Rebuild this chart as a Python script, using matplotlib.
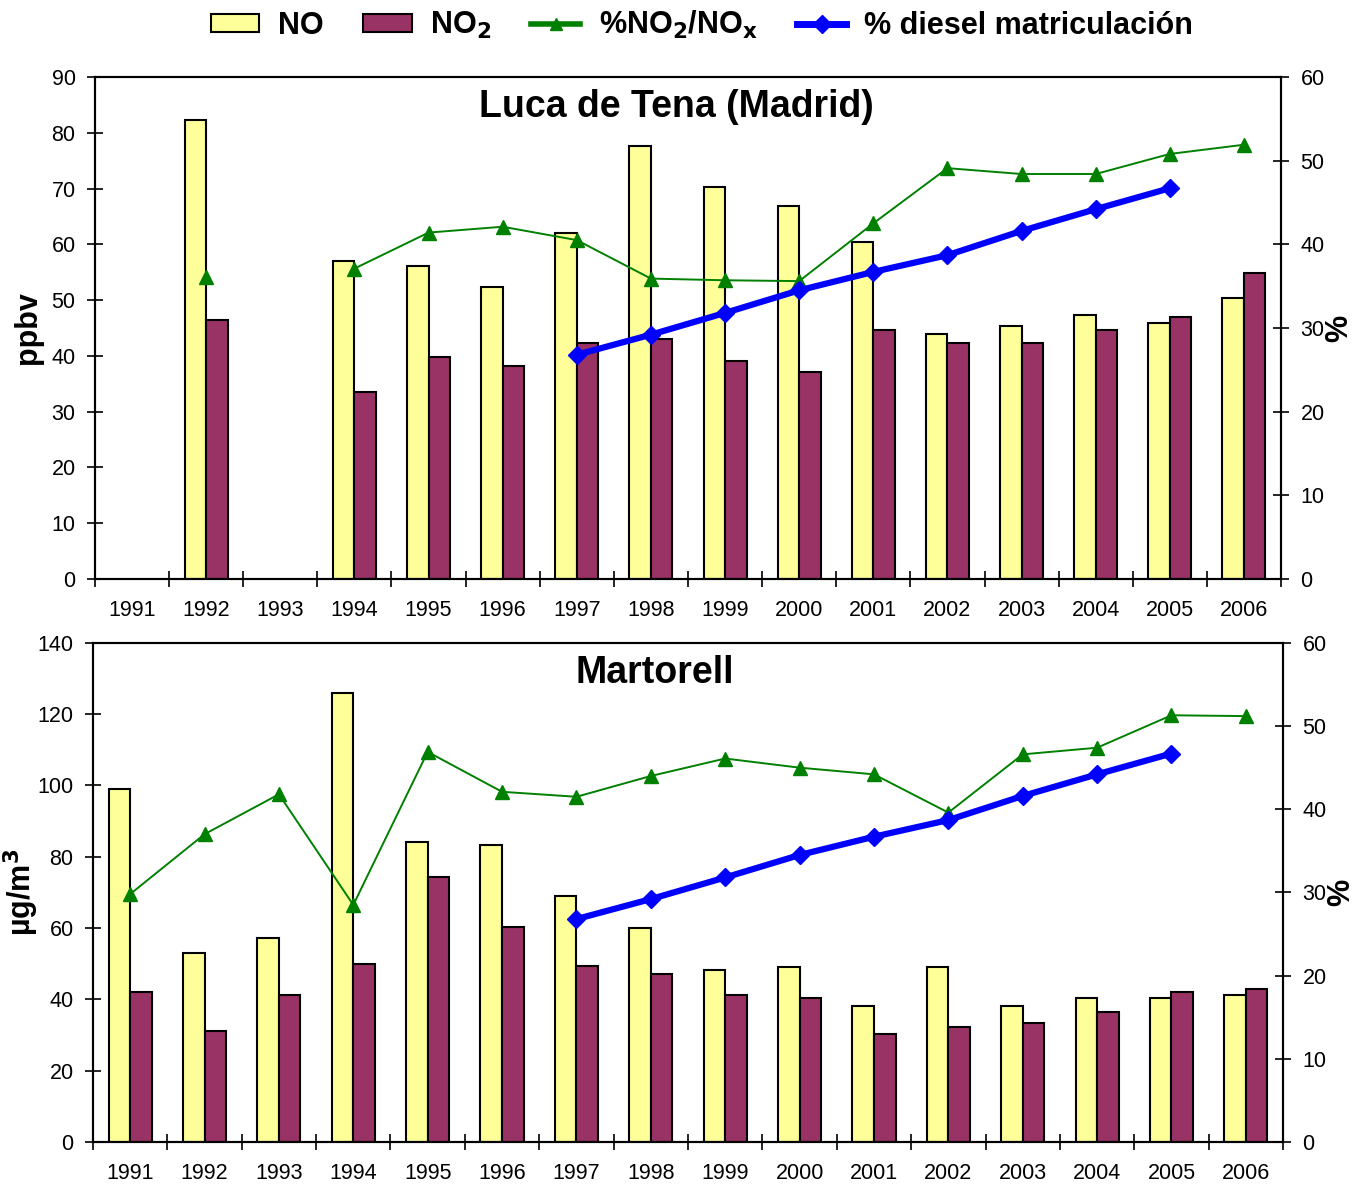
import numpy as np
import matplotlib.pyplot as plt
from matplotlib.lines import Line2D
from matplotlib.patches import Patch

plt.rcParams['font.family'] = ['Liberation Sans', 'DejaVu Sans']
plt.rcParams['mathtext.default'] = 'bf'

anios = ['1991', '1992', '1993', '1994', '1995', '1996', '1997', '1998',
         '1999', '2000', '2001', '2002', '2003', '2004', '2005', '2006']

# Luca de Tena (Madrid), ppbv
mad_no = [np.nan, 82.2, np.nan, 57.0, 56.1, 52.3, 62.0, 77.6,
          70.3, 66.9, 60.4, 43.9, 45.4, 47.3, 45.9, 50.4]
mad_no2 = [np.nan, 46.4, np.nan, 33.5, 39.8, 38.2, 42.3, 43.0,
           39.1, 37.1, 44.6, 42.3, 42.3, 44.6, 47.0, 54.9]
mad_ratio = [np.nan, 36.1, np.nan, 37.1, 41.4, 42.1, 40.5, 35.9,
             35.7, 35.6, 42.5, 49.1, 48.4, 48.4, 50.8, 51.9]

# Martorell, ug/m3
mar_no = [99.0, 53.0, 57.2, 126.0, 84.2, 83.3, 69.0, 60.0,
          48.3, 49.1, 38.2, 49.1, 38.2, 40.4, 40.4, 41.2]
mar_no2 = [42.1, 31.1, 41.2, 49.9, 74.4, 60.3, 49.4, 47.1,
           41.2, 40.4, 30.3, 32.3, 33.4, 36.5, 42.1, 42.9]
mar_ratio = [29.8, 37.0, 41.8, 28.5, 46.9, 42.1, 41.5, 44.0,
             46.1, 45.0, 44.2, 39.6, 46.6, 47.4, 51.3, 51.2]

# % diesel en matriculaciones (1997-2005)
diesel = [np.nan] * 6 + [26.8, 29.2, 31.8, 34.5, 36.7, 38.7, 41.6, 44.2, 46.7] + [np.nan]

c_no = '#FFFF99'
c_no2 = '#993366'
c_ratio = '#008000'
c_diesel = '#0000FF'


def panel(ax, no, no2, ratio, ymax, ystep, ylabel, titulo, tx, ylab_x):
    x = np.arange(len(anios))
    w = 0.29
    ax.bar(x - w / 2, no, w, color=c_no, edgecolor='black', linewidth=1.5, zorder=2)
    ax.bar(x + w / 2, no2, w, color=c_no2, edgecolor='black', linewidth=1.5, zorder=2)
    ax.set_xlim(-0.5, len(anios) - 0.5)
    ax.set_ylim(0, ymax)
    ax.set_yticks(np.arange(0, ymax + 1, ystep))
    ax.set_xticks(np.arange(-0.5, len(anios)), labels=[])
    ax.set_xticks(x, labels=anios, minor=True)
    ax.tick_params(axis='x', which='minor', length=0, pad=15, labelsize=15.5)
    ax.tick_params(axis='both', which='major', direction='inout', length=12, width=1.2, labelsize=15.5)
    ax.tick_params(axis='y', pad=8)
    for s in ax.spines.values():
        s.set_linewidth(1.5)
    ax.set_ylabel(ylabel, fontsize=22, fontweight='bold', ha='center', va='center')
    ax.yaxis.set_label_coords(ylab_x, 0.5)
    ax.text(tx, 0.94, titulo, transform=ax.transAxes, ha='center', va='center',
            fontsize=27, fontweight='bold')

    ax2 = ax.twinx()
    ax2.plot(x, ratio, color=c_ratio, lw=1.4, marker='^', ms=10)
    ax2.plot(x, diesel, color=c_diesel, lw=4.5, marker='D', ms=9)
    ax2.set_ylim(0, 60)
    ax2.set_yticks(np.arange(0, 61, 10))
    ax2.tick_params(axis='y', direction='inout', length=12, width=1.2, labelsize=15.5, pad=8)
    for s in ax2.spines.values():
        s.set_linewidth(1.5)
    ax2.set_ylabel('%', fontsize=22, fontweight='bold', rotation=90, ha='center', va='center')
    ax2.yaxis.set_label_coords(1.049, 0.5)
    return ax2


fig = plt.figure(figsize=(13.55, 11.84), dpi=100)
ax1 = fig.add_axes([0.0701, 0.511, 0.8753, 0.424])
ax3 = fig.add_axes([0.0686, 0.0355, 0.8783, 0.4215])

panel(ax1, mad_no, mad_no2, mad_ratio, 90, 10, 'ppbv', 'Luca de Tena (Madrid)', 0.49, -0.0565)
panel(ax3, mar_no, mar_no2, mar_ratio, 140, 20, 'µg/m$^3$', 'Martorell', 0.472, -0.06)

handles = [
    Patch(facecolor=c_no, edgecolor='black', linewidth=1.5),
    Patch(facecolor=c_no2, edgecolor='black', linewidth=1.5),
    Line2D([], [], color=c_ratio, lw=4, marker='^', ms=9),
    Line2D([], [], color=c_diesel, lw=5, marker='D', ms=9),
]
labels = ['NO', 'NO$_\\mathbf{2}$', '%NO$_\\mathbf{2}$/NO$_\\mathbf{x}$', '% diesel matriculación']
fig.legend(handles, labels, loc='center', bbox_to_anchor=(0.518, 0.979), ncol=4,
           frameon=False, prop={'size': 22, 'weight': 'bold'},
           handlelength=1.6, handleheight=0.5, handletextpad=0.6, columnspacing=1.3)

fig.savefig('out.png', dpi=100)
